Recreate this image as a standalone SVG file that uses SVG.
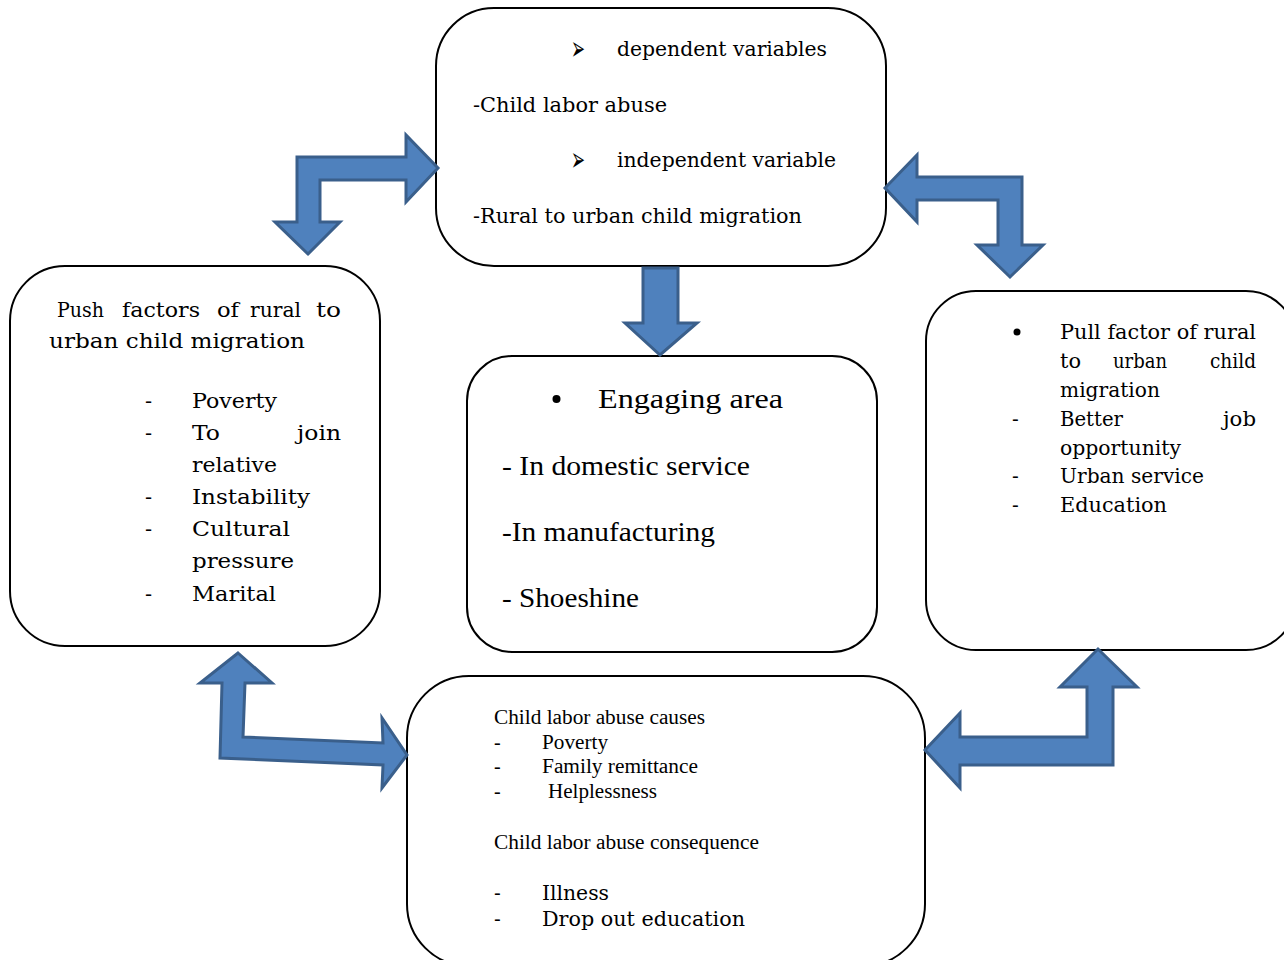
<svg xmlns="http://www.w3.org/2000/svg" width="1284" height="960" viewBox="0 0 1284 960">
<style>
.box{fill:#fff;stroke:#000;stroke-width:2}
.arr{fill:#4F81BD;stroke:#3A5F8B;stroke-width:3;stroke-linejoin:miter}
.bk{font-family:"DejaVu Serif","Liberation Serif",serif;fill:#000}
.tm{font-family:"Liberation Serif","Times New Roman",serif;fill:#000}
.sym{font-family:"DejaVu Sans",sans-serif;fill:#000}
</style>
<rect width="1284" height="960" fill="#fff"/>
<g id="node-variables">
<rect class="box" x="436" y="8" width="450" height="258" rx="58"/>
<text class="sym" x="571" y="60" font-size="34" textLength="14" lengthAdjust="spacingAndGlyphs">➢</text>
<text class="bk" x="617" y="56" font-size="21" textLength="210" lengthAdjust="spacingAndGlyphs">dependent variables</text>
<text class="bk" x="473" y="112" font-size="21" textLength="194" lengthAdjust="spacingAndGlyphs">-Child labor abuse</text>
<text class="sym" x="571" y="171" font-size="34" textLength="14" lengthAdjust="spacingAndGlyphs">➢</text>
<text class="bk" x="617" y="167" font-size="21" textLength="219" lengthAdjust="spacingAndGlyphs">independent variable</text>
<text class="bk" x="473" y="223" font-size="21" textLength="329" lengthAdjust="spacingAndGlyphs">-Rural to urban child migration</text>
</g>
<g id="node-push">
<rect class="box" x="10" y="266" width="370" height="380" rx="55"/>
<g class="bk" font-size="21">
<text x="57" y="317" textLength="47" lengthAdjust="spacingAndGlyphs">Push</text>
<text x="122" y="317" textLength="78" lengthAdjust="spacingAndGlyphs">factors</text>
<text x="217" y="317" textLength="22" lengthAdjust="spacingAndGlyphs">of</text>
<text x="250" y="317" textLength="51" lengthAdjust="spacingAndGlyphs">rural</text>
<text x="316" y="317" textLength="25" lengthAdjust="spacingAndGlyphs">to</text>
<text x="49" y="348" textLength="256" lengthAdjust="spacingAndGlyphs">urban child migration</text>
<text x="145" y="408">-</text><text x="192" y="408" textLength="85" lengthAdjust="spacingAndGlyphs">Poverty</text>
<text x="145" y="440">-</text><text x="192" y="440" textLength="28" lengthAdjust="spacingAndGlyphs">To</text><text x="297" y="440" textLength="44" lengthAdjust="spacingAndGlyphs">join</text>
<text x="192" y="472" textLength="85" lengthAdjust="spacingAndGlyphs">relative</text>
<text x="145" y="504">-</text><text x="192" y="504" textLength="118" lengthAdjust="spacingAndGlyphs">Instability</text>
<text x="145" y="536">-</text><text x="192" y="536" textLength="98" lengthAdjust="spacingAndGlyphs">Cultural</text>
<text x="192" y="568" textLength="102" lengthAdjust="spacingAndGlyphs">pressure</text>
<text x="145" y="601">-</text><text x="192" y="601" textLength="84" lengthAdjust="spacingAndGlyphs">Marital</text>
</g>
</g>
<g id="node-engaging">
<rect class="box" x="467" y="356" width="410" height="296" rx="45"/>
<circle cx="556.5" cy="399" r="4"/>
<g class="tm" font-size="27">
<text x="598" y="408" textLength="185" lengthAdjust="spacingAndGlyphs">Engaging area</text>
<text x="502" y="475" textLength="248" lengthAdjust="spacingAndGlyphs">- In domestic service</text>
<text x="502" y="541" textLength="213" lengthAdjust="spacingAndGlyphs">-In manufacturing</text>
<text x="502" y="607" textLength="137" lengthAdjust="spacingAndGlyphs">- Shoeshine</text>
</g>
</g>
<g id="node-pull">
<rect class="box" x="926" y="291" width="370" height="359" rx="50"/>
<circle cx="1017" cy="332" r="3.5"/>
<g class="bk" font-size="20">
<text x="1060" y="339" textLength="196" lengthAdjust="spacingAndGlyphs">Pull factor of rural</text>
<text x="1060" y="368" textLength="21" lengthAdjust="spacingAndGlyphs">to</text>
<text x="1113" y="368" textLength="54" lengthAdjust="spacingAndGlyphs">urban</text>
<text x="1210" y="368" textLength="46" lengthAdjust="spacingAndGlyphs">child</text>
<text x="1060" y="397" textLength="100" lengthAdjust="spacingAndGlyphs">migration</text>
<text x="1012" y="426">-</text>
<text x="1060" y="426" textLength="63" lengthAdjust="spacingAndGlyphs">Better</text>
<text x="1223" y="426" textLength="33" lengthAdjust="spacingAndGlyphs">job</text>
<text x="1060" y="455" textLength="121" lengthAdjust="spacingAndGlyphs">opportunity</text>
<text x="1012" y="483">-</text>
<text x="1060" y="483" textLength="144" lengthAdjust="spacingAndGlyphs">Urban service</text>
<text x="1012" y="512">-</text>
<text x="1060" y="512" textLength="107" lengthAdjust="spacingAndGlyphs">Education</text>
</g>
</g>
<g id="node-abuse">
<rect class="box" x="407" y="676" width="518" height="290" rx="62"/>
<g class="tm" font-size="20">
<text x="494" y="724" textLength="211" lengthAdjust="spacingAndGlyphs">Child labor abuse causes</text>
<text x="494" y="749">-</text><text x="542" y="749" textLength="66" lengthAdjust="spacingAndGlyphs">Poverty</text>
<text x="494" y="773">-</text><text x="542" y="773" textLength="156" lengthAdjust="spacingAndGlyphs">Family remittance</text>
<text x="494" y="798">-</text><text x="548" y="798" textLength="109" lengthAdjust="spacingAndGlyphs">Helplessness</text>
<text x="494" y="849" textLength="265" lengthAdjust="spacingAndGlyphs">Child labor abuse consequence</text>
</g>
<g class="bk" font-size="20">
<text x="494" y="900">-</text><text x="542" y="900" textLength="67" lengthAdjust="spacingAndGlyphs">Illness</text>
<text x="494" y="926">-</text><text x="542" y="926" textLength="203" lengthAdjust="spacingAndGlyphs">Drop out education</text>
</g>
</g>
<g id="connectors">
<path class="arr" d="M297,157 L406,157 L406,135 L438,168 L406,202 L406,180 L320,180 L320,222 L340,222 L308,254 L275,222 L297,222 Z"/>
<path class="arr" d="M885,188 L917,155 L917,177 L1022,177 L1022,245 L1043,245 L1010,277 L977,245 L998,245 L998,200 L917,200 L917,222 Z"/>
<path class="arr" d="M643,268 L678,268 L678,323 L697,323 L660,355 L625,323 L643,323 Z"/>
<path class="arr" d="M238,653 L272,683 L245,683 L243,737 L383,743 L382,718 L407,755 L382,788 L383,765 L220,758 L222,683 L200,683 Z"/>
<path class="arr" d="M925,750 L960,713 L960,737 L1087,737 L1087,687 L1060,687 L1098,649 L1137,687 L1113,687 L1113,765 L960,765 L960,788 Z"/>
</g>
</svg>
